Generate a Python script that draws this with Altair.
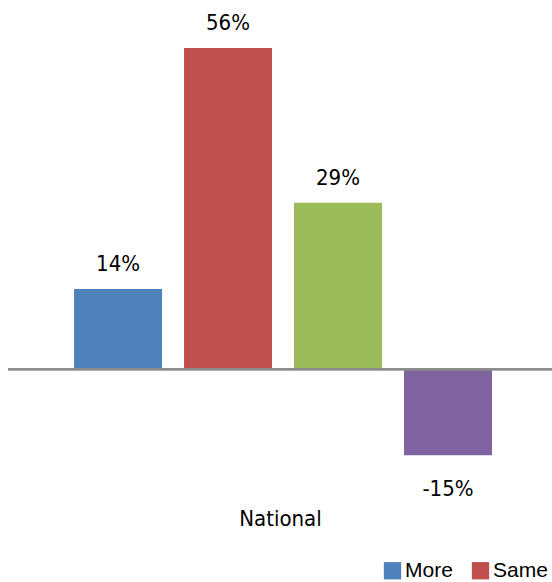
import altair as alt
import pandas as pd

# ---- data ----
categories = ["More", "Same", "Less", "Net"]
values = [0.14, 0.56, 0.29, -0.15]
labels = ["14%", "56%", "29%", "-15%"]
colors = ["#4F81BD", "#C0504D", "#9BBB59", "#8064A2"]
group_title = "National"
legend_items = ["More", "Same"]

df = pd.DataFrame({"cat": categories, "value": values, "label": labels})

NARROW = "DejaVu Sans Condensed, Roboto, sans-serif"
FS = 22

x_enc = alt.X(
    "cat:N",
    sort=categories,
    scale=alt.Scale(domain=categories, paddingInner=0.2, paddingOuter=0.573, align=0.524),
    axis=alt.Axis(
        title=group_title, labels=False, ticks=False, domain=False, grid=False,
        titleFont=NARROW, titleFontSize=FS, titleFontWeight="normal", titleColor="#000000",
        titleBaseline="alphabetic", titleY=41,
    ),
)
y_scale = alt.Scale(domain=[-0.2, 0.6], nice=False, zero=False)

base = alt.Chart(df)

bars = base.mark_bar(size=88).encode(
    x=x_enc,
    y=alt.Y("value:Q", scale=y_scale, axis=None),
    y2=alt.datum(0),
    color=alt.Color(
        "cat:N",
        scale=alt.Scale(domain=categories, range=colors),
        legend=alt.Legend(
            values=legend_items, title=None, orient="none", direction="horizontal",
            legendX=374, legendY=535, symbolType="square", symbolSize=300,
            symbolStrokeWidth=0, labelFont="Liberation Sans", labelFontSize=21,
            labelColor="#000000", labelOffset=2, columnPadding=17, padding=0,
        ),
    ),
)

pos_labels = base.transform_filter("datum.value >= 0").mark_text(
    font=NARROW, fontSize=FS, color="#000000", baseline="alphabetic", dy=-17.5
).encode(x=alt.X("cat:N", sort=categories), y=alt.Y("value:Q"), text="label:N")

neg_labels = base.transform_filter("datum.value < 0").mark_text(
    font=NARROW, fontSize=FS, color="#000000", baseline="alphabetic", dy=41
).encode(x=alt.X("cat:N", sort=categories), y=alt.Y("value:Q"), text="label:N")

zero_line = base.mark_rule(color="#8C8C8C", strokeWidth=2).encode(y=alt.datum(0))

chart = (
    alt.layer(bars, zero_line, pos_labels, neg_labels)
    .properties(
        width=544,
        height=459,
        background="white",
        autosize=alt.AutoSizeParams(type="none"),
        padding={"left": 8, "top": 25, "right": 0, "bottom": 98},
    )
    .configure_view(strokeWidth=0, stroke=None)
)

chart.save("out.html", embed_options={"renderer": "svg", "actions": False})
